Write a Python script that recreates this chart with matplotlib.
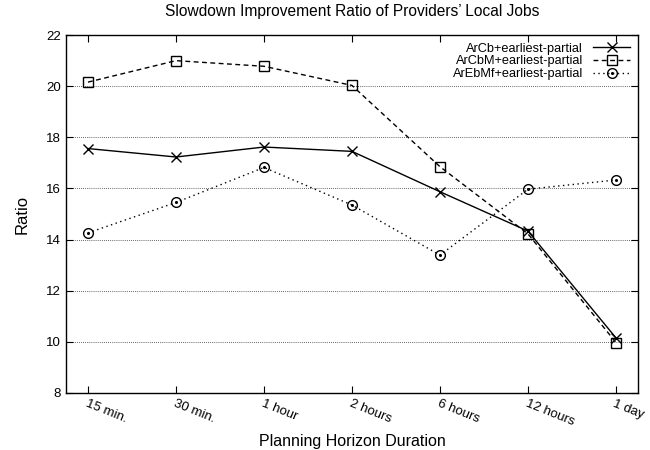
import matplotlib
matplotlib.use("Agg")
import matplotlib.pyplot as plt
from matplotlib.legend_handler import HandlerTuple

plt.rcParams['font.family'] = ['Liberation Sans', 'DejaVu Sans']

categories = ["15 min.", "30 min.", "1 hour", "2 hours", "6 hours", "12 hours", "1 day"]
arcb = [17.56, 17.23, 17.62, 17.45, 15.87, 14.33, 10.15]
arcbm = [20.16, 21.0, 20.78, 20.03, 16.85, 14.22, 9.97]
arebmf = [14.26, 15.45, 16.82, 15.35, 13.39, 15.97, 16.33]
names = ["ArCb+earliest-partial", "ArCbM+earliest-partial", "ArEbMf+earliest-partial"]

fig = plt.figure(figsize=(6.5, 4.5), dpi=100)
ax = fig.add_axes([0.1015, 0.127, 0.88, 0.795])

x = list(range(len(categories)))
l1, = ax.plot(x, arcb, color='black', lw=1.0, ls='-', marker='x', ms=7, mew=1.0)
l2, = ax.plot(x, arcbm, color='black', lw=1.0, ls=(0, (3.5, 2.5)), marker='s', ms=7,
              mfc='none', mew=1.0)
l3, = ax.plot(x, arebmf, color='black', lw=1.0, ls=(0, (1, 2.5)), marker='o', ms=7,
              mfc='none', mew=1.0)
l3d, = ax.plot(x, arebmf, color='black', lw=0, marker='o', ms=1.2)

ax.set_xlim(-0.25, 6.25)
ax.set_ylim(8, 22)
ax.set_yticks(range(8, 23, 2))
ax.set_xticks(x)
ax.set_xticklabels(categories, rotation=-22, ha='left', rotation_mode='anchor', fontsize=9.5)
ax.tick_params(axis='y', labelsize=9.5)
ax.tick_params(direction='in', top=True, right=True, length=5, width=0.8)
ax.grid(axis='y', color='#333333', ls=(0, (1, 1.5)), lw=0.6)
ax.set_axisbelow(True)
for s in ax.spines.values():
    s.set_linewidth(1.0)

ax.set_xlabel("Planning Horizon Duration", fontsize=11.5, labelpad=4)
ax.set_ylabel("Ratio", fontsize=12, labelpad=12)
ax.set_title("Slowdown Improvement Ratio of Providers\u2019 Local Jobs", fontsize=11.2, pad=14)

leg = ax.legend([l1, l2, (l3, l3d)], names, loc='upper right', frameon=False,
                markerfirst=False, fontsize=9.2, handlelength=2.9, handletextpad=0.8,
                labelspacing=0.05, borderaxespad=0.2,
                handler_map={tuple: HandlerTuple(ndivide=1)})

fig.savefig("out.png", dpi=100)
